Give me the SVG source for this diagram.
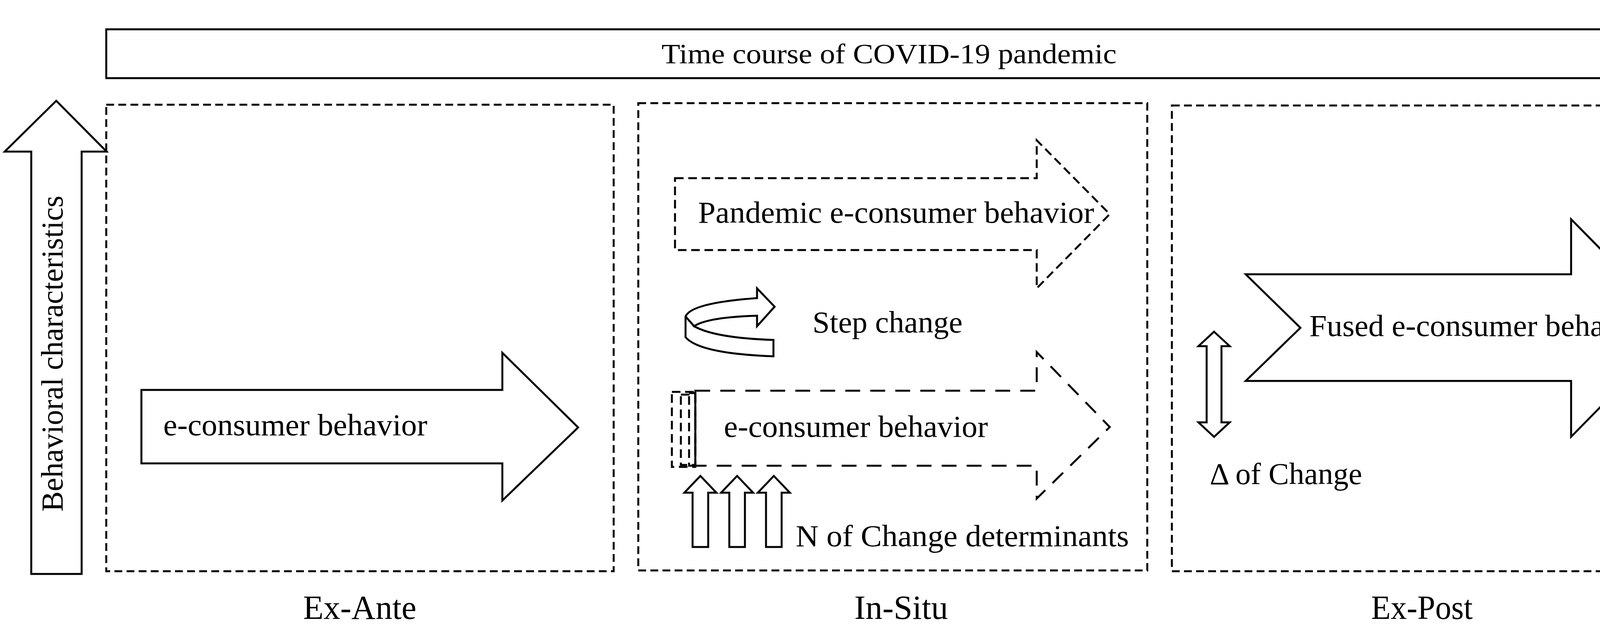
<svg xmlns="http://www.w3.org/2000/svg" width="4319" height="1615" viewBox="0 0 4319 1615">
<style>
.s{fill:#fff;stroke:#000;stroke-width:5;stroke-linejoin:miter}
.box{fill:none;stroke:#000;stroke-width:5;stroke-dasharray:20 11}
.d1{fill:none;stroke:#000;stroke-width:5;stroke-dasharray:22 12}
.d2{fill:none;stroke:#000;stroke-width:5;stroke-dasharray:38 26}
text{font-family:"Liberation Serif","Times New Roman",serif;fill:#000}
.t{font-size:78px}
.l{font-size:86px}
</style>
<rect width="4319" height="1615" fill="#fff"/>
<g id="time-axis">
<polygon class="s" points="272,75 4175,75 4175,11 4303,138 4175,261 4175,200 272,200"/>
<text x="2276" y="162" font-size="72" text-anchor="middle" textLength="1165" lengthAdjust="spacingAndGlyphs">Time course of COVID-19 pandemic</text>
</g>
<g id="behavior-axis">
<polygon class="s" points="80,1469 80,388 12,388 144,258 273,388 209,388 209,1469"/>
<text transform="translate(160,905) rotate(-90)" class="t" text-anchor="middle" textLength="809" lengthAdjust="spacingAndGlyphs">Behavioral characteristics</text>
</g>
<g id="ex-ante">
<rect class="box" x="272" y="268" width="1299" height="1194"/>
<polygon class="s" points="362,998 1286,998 1286,903 1480,1094 1286,1281 1286,1186 362,1186"/>
<text x="418" y="1114" class="t" textLength="676" lengthAdjust="spacingAndGlyphs">e-consumer behavior</text>
<text x="921" y="1584" class="l" text-anchor="middle" textLength="290" lengthAdjust="spacingAndGlyphs">Ex-Ante</text>
</g>
<g id="in-situ">
<rect class="box" x="1634" y="264" width="1303" height="1196"/>
<polygon class="d1" points="1728,456 2654,456 2654,359 2841,548 2654,738 2654,640 1728,640"/>
<text x="1787" y="570" class="t" textLength="1014" lengthAdjust="spacingAndGlyphs">Pandemic e-consumer behavior</text>
<path class="s" d="M1938,763 L1938,738 L1983,785 L1938,835 L1938,808 Q1810,812 1777,835 Q1830,865 1980,870 L1980,912 Q1790,905 1755,863 L1755,810 Q1770,775 1938,763 Z"/>
<path d="M1755,810 L1777,835" stroke="#000" stroke-width="5" fill="none"/>
<text x="2080" y="851" class="t" textLength="384" lengthAdjust="spacingAndGlyphs">Step change</text>
<rect class="d1" x="1720" y="1003" width="60" height="192"/>
<rect class="d1" x="1743" y="1010" width="37" height="180"/>
<rect class="d1" x="1764" y="1006" width="16" height="186"/>
<polygon class="d2" points="1780,1000 2654,1000 2654,901 2841,1093 2654,1276 2654,1192 1780,1192"/>
<text x="1853" y="1118" class="t" textLength="676" lengthAdjust="spacingAndGlyphs">e-consumer behavior</text>
<polygon class="s" points="1773,1400 1773,1261 1752,1261 1793,1218 1834,1261 1813,1261 1813,1400"/>
<polygon class="s" points="1867,1400 1867,1261 1846,1261 1887,1218 1928,1261 1907,1261 1907,1400"/>
<polygon class="s" points="1961,1400 1961,1261 1940,1261 1981,1218 2022,1261 2001,1261 2001,1400"/>
<text x="2037" y="1398" class="t" textLength="853" lengthAdjust="spacingAndGlyphs">N of Change determinants</text>
<text x="2307" y="1584" class="l" text-anchor="middle" textLength="240" lengthAdjust="spacingAndGlyphs">In-Situ</text>
</g>
<g id="ex-post">
<rect class="box" x="3000" y="270" width="1305" height="1192"/>
<polygon class="s" points="3189,702 4022,702 4022,561 4296,839 4022,1118 4022,975 3189,975 3329,839"/>
<text x="3352" y="860" class="t" textLength="883" lengthAdjust="spacingAndGlyphs">Fused e-consumer behavior</text>
<polygon class="s" points="3108,849 3148,886 3127,886 3127,1081 3148,1081 3108,1118 3068,1081 3089,1081 3089,886 3068,886"/>
<text x="3097" y="1239" class="t" textLength="390" lengthAdjust="spacingAndGlyphs">Δ of Change</text>
<text x="3640" y="1584" class="l" text-anchor="middle" textLength="260" lengthAdjust="spacingAndGlyphs">Ex-Post</text>
</g>
<g id="connectors"></g>
</svg>
